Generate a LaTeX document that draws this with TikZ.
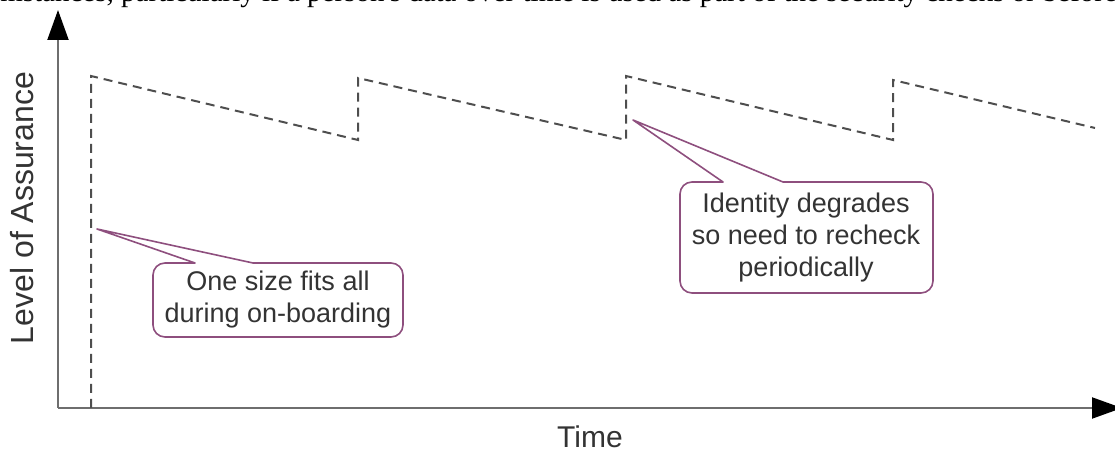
\documentclass[tikz,border=0pt]{standalone}
\usepackage{fontspec}
\setmainfont{Liberation Sans}
\newfontfamily\bodyserif{Liberation Serif}
\usetikzlibrary{arrows.meta}

\definecolor{axisgray}{HTML}{6E6E6E}
\definecolor{curvegray}{HTML}{4E4E4E}
\definecolor{calloutplum}{HTML}{8E4F7E}
\definecolor{labeltext}{HTML}{333333}

\begin{document}
\begin{tikzpicture}[x=1pt,y=1pt,
  axis/.style={draw=axisgray, line width=2pt,
    -{Triangle[length=30pt,width=21pt,color=black]}},
  loa/.style={draw=curvegray, line width=2pt, dash pattern=on 9pt off 6pt},
  callout/.style={draw=calloutplum, line width=1.6pt, fill=white, line join=round},
  note/.style={text=labeltext, font=\fontsize{27}{32}\selectfont,
    align=center, inner sep=0pt},
  axislabel/.style={text=labeltext, font=\fontsize{30}{34}\selectfont, inner sep=0pt},
  bodytext/.style={font=\bodyserif\fontsize{29}{34}\selectfont, inner sep=0pt}]
\useasboundingbox (0,0) rectangle (1115,454);
\clip (0,0) rectangle (1115,454);

% tail of the running text above the figure
\node[bodytext, anchor=base west] (bodyR) at (121,452)
  {particularly if a person's data over time is used as part of the security checks or before};
\node[bodytext, anchor=base east] (bodyL) at (114,452) {circumstances,};

% axes
\coordinate (origin) at (58,46);
\coordinate (ytop) at (58,444);
\coordinate (xend) at (1122,46);
\draw[axis] (origin) -- (ytop);
\draw[axis] (origin) -- (xend);

\node[axislabel, rotate=90, font=\fontsize{32}{36}\selectfont] (ylab) at (22,246) {Level of Assurance};
\node[axislabel] (xlab) at (590,17) {Time};

% level of assurance over time: re-checks restore it, then it decays
\coordinate (s0) at (91,46);
\coordinate (s1) at (91,378);
\coordinate (s2) at (358,314);
\coordinate (s3) at (358,376);
\coordinate (s4) at (626,314);
\coordinate (s5) at (626,378);
\coordinate (s6) at (893,314);
\coordinate (s7) at (893,374);
\coordinate (s8) at (1095,326);
\draw[loa] (s0) -- (s1) -- (s2) -- (s3) -- (s4) -- (s5) -- (s6) -- (s7) -- (s8);

% callout: on-boarding
\coordinate (tipA) at (97,225);
\draw[callout] (253,191) -- (391,191) arc[start angle=90,end angle=0,radius=12]
  -- (403,129) arc[start angle=0,end angle=-90,radius=12]
  -- (165,117) arc[start angle=270,end angle=180,radius=12]
  -- (153,179) arc[start angle=180,end angle=90,radius=12]
  -- (195,191) -- (tipA) -- cycle;
\node[note] (noteA) at (278,154) {One size fits all\\during on-boarding};

% callout: periodic re-check
\coordinate (tipB) at (633,334);
\draw[callout] (783,272) -- (921,272) arc[start angle=90,end angle=0,radius=12]
  -- (933,173) arc[start angle=0,end angle=-90,radius=12]
  -- (692,161) arc[start angle=270,end angle=180,radius=12]
  -- (680,260) arc[start angle=180,end angle=90,radius=12]
  -- (723,272) -- (tipB) -- cycle;
\node[note] (noteB) at (806,216) {Identity degrades\\so need to recheck\\periodically};
\end{tikzpicture}
\end{document}
